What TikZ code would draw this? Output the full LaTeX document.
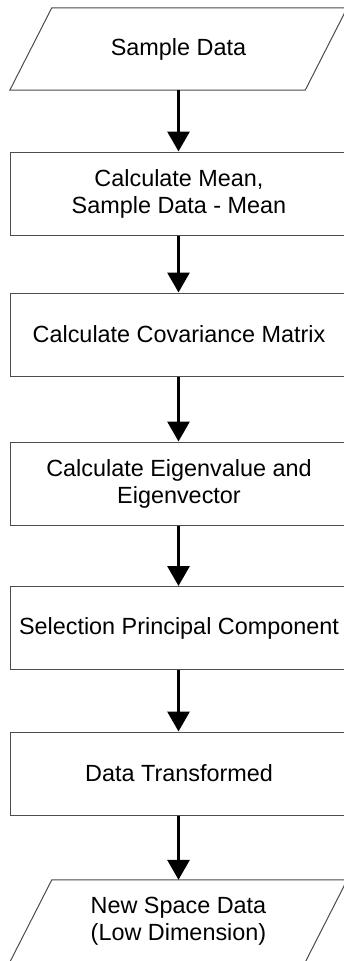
\documentclass[tikz,border=0pt]{standalone}
\usepackage{fontspec}
\setmainfont{Liberation Sans}
\usetikzlibrary{arrows.meta}
\begin{document}
\begin{tikzpicture}[x=1pt,y=-1pt,
  boxstyle/.style={draw=black!70, line width=1pt, minimum width=338pt, minimum height=83pt, inner sep=0pt, align=center, font=\fontsize{23.4pt}{27pt}\selectfont},
  iostyle/.style={minimum width=295pt, minimum height=82pt, inner sep=0pt, align=center, font=\fontsize{23.4pt}{27pt}\selectfont},
  slantline/.style={draw=black!70, line width=1pt},
  flowarrow/.style={line width=3pt, -{Triangle[width=22pt,length=20pt]}}
]
\useasboundingbox (0,0) rectangle (344,961);
\clip (0,0) rectangle (344,961);
\fill[white] (0,0) rectangle (344,961);

\node[iostyle] (in) at (178.5,49) {Sample Data};
\draw[slantline] ([xshift=21pt]in.north west) -- ([xshift=21pt]in.north east) -- ([xshift=-21pt]in.south east) -- ([xshift=-21pt]in.south west) -- cycle;

\node[boxstyle] (b1) at (179,193.5) {Calculate Mean,\\Sample Data - Mean};
\node[boxstyle] (b2) at (179,334.5) {Calculate Covariance Matrix};
\node[boxstyle] (b3) at (179,483.5) {Calculate Eigenvalue and\\Eigenvector};
\node[boxstyle] (b4) at (179,628) {Selection Principal Component};
\node[boxstyle] (b5) at (179,773.5) {Data Transformed};

\node[iostyle] (out) at (178.5,921) {New Space Data\\(Low Dimension)};
\draw[slantline] ([xshift=21pt]out.north west) -- ([xshift=21pt]out.north east) -- ([xshift=-21pt]out.south east) -- ([xshift=-21pt]out.south west) -- cycle;

\draw[flowarrow] (in.south) -- (in.south |- b1.north);
\draw[flowarrow] (b1.south -| in.south) -- (in.south |- b2.north);
\draw[flowarrow] (b2.south -| in.south) -- (in.south |- b3.north);
\draw[flowarrow] (b3.south -| in.south) -- (in.south |- b4.north);
\draw[flowarrow] (b4.south -| in.south) -- (in.south |- b5.north);
\draw[flowarrow] (b5.south -| in.south) -- (out.north);
\end{tikzpicture}
\end{document}
